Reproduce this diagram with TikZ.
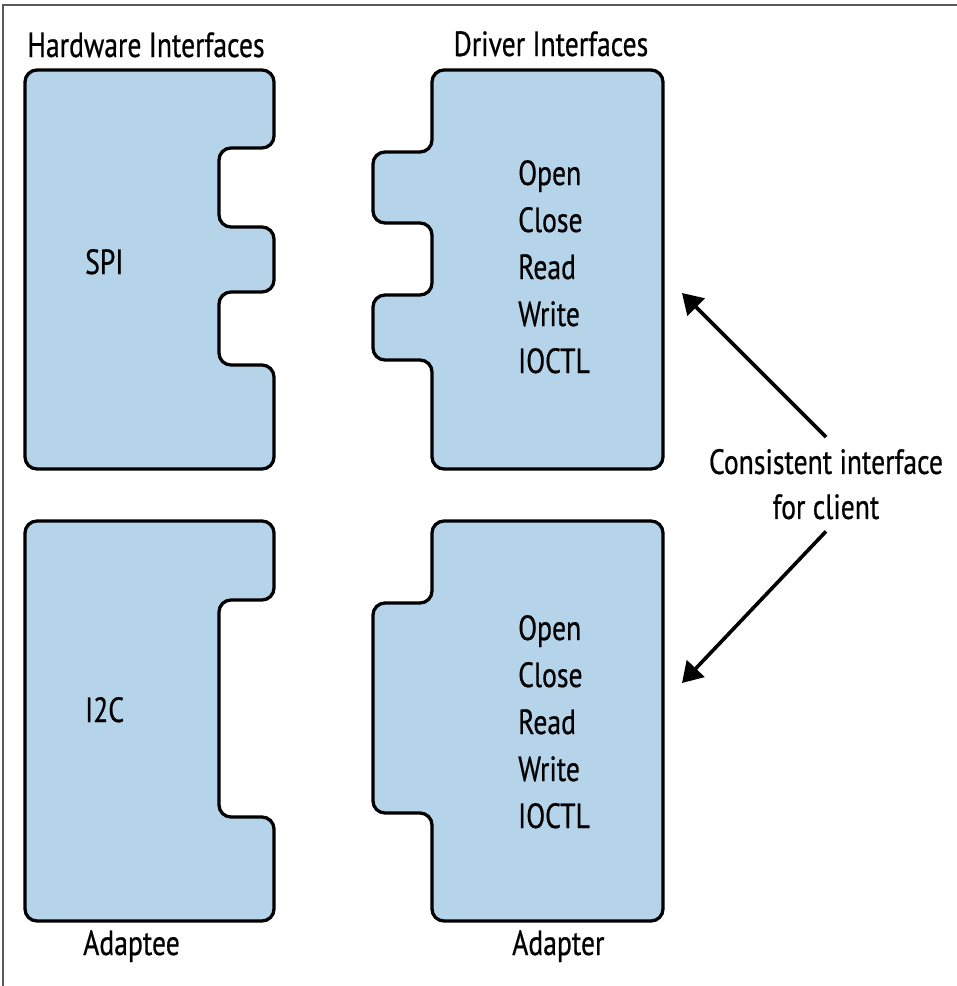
\documentclass[tikz,border=0pt]{standalone}
\usepackage{fontspec}
\setmainfont[FakeStretch=0.79,FakeBold=0.6]{PT Sans}
\usetikzlibrary{arrows.meta}
\definecolor{piecefill}{RGB}{181,212,234}
\tikzset{piece/.style={draw=black, line width=3.3pt, fill=piecefill, rounded corners=12pt},
  lbl/.style={inner sep=0pt, anchor=base west, font=\fontsize{35}{47}\selectfont},
  hint/.style={-{Triangle[length=20pt,width=24pt]}, line width=3.6pt}}

\begin{document}
\begin{tikzpicture}[x=1pt,y=-1pt]
    \useasboundingbox (0,0) rectangle (957,986);
    \draw[gray!70!black, line width=1.5pt] (3,986) -- (3,5) -- (957,5);
    % hardware side
    \draw[piece] (150,70) -- (274,70) -- (274,148) -- (219,148) -- (219,227) -- (274,227) -- (274,292) -- (219,292) -- (219,365) -- (274,365) -- (274,469) -- (25,469) -- (25,70) -- cycle;
    \draw[piece] (150,521) -- (274,521) -- (274,600) -- (219,600) -- (219,817) -- (274,817) -- (274,921) -- (25,921) -- (25,521) -- cycle;
    % driver side
    \draw[piece] (550,70) -- (663,70) -- (663,469) -- (432,469) -- (432,360) -- (373,360) -- (373,295) -- (432,295) -- (432,223) -- (373,223) -- (373,152) -- (432,152) -- (432,70) -- cycle;
    \draw[piece] (550,521) -- (663,521) -- (663,921) -- (432,921) -- (432,813) -- (373,813) -- (373,603) -- (432,603) -- (432,521) -- cycle;
    \node[lbl, anchor=base] (hwtitle) at (146,57) {Hardware Interfaces};
    \node[lbl, anchor=base] (drvtitle) at (551,56) {Driver Interfaces};
    \node[lbl] (spi) at (85,274) {SPI};
    \node[lbl] (i2c) at (85,722) {I2C};
    \node[lbl] (adaptee) at (83,955) {Adaptee};
    \node[lbl] (adapter) at (512,955) {Adapter};
    \foreach \op [count=\i] in {Open,Close,Read,Write,IOCTL} {
        \node[lbl] (drv\i) at (518,185+47*\i-47) {\op};
        \node[lbl] (adp\i) at (518,640+47*\i-47) {\op};
    }
    \node[lbl, anchor=north, align=center, font=\fontsize{35}{45}\selectfont, outer sep=12pt] (client) at (826,437) {Consistent interface\\for client};
    \coordinate (drvport) at (682,293);
    \coordinate (adpport) at (682,683);
    \draw[hint] (client.north) -- (drvport);
    \draw[hint] (client.south) -- (adpport);
\end{tikzpicture}
\end{document}
